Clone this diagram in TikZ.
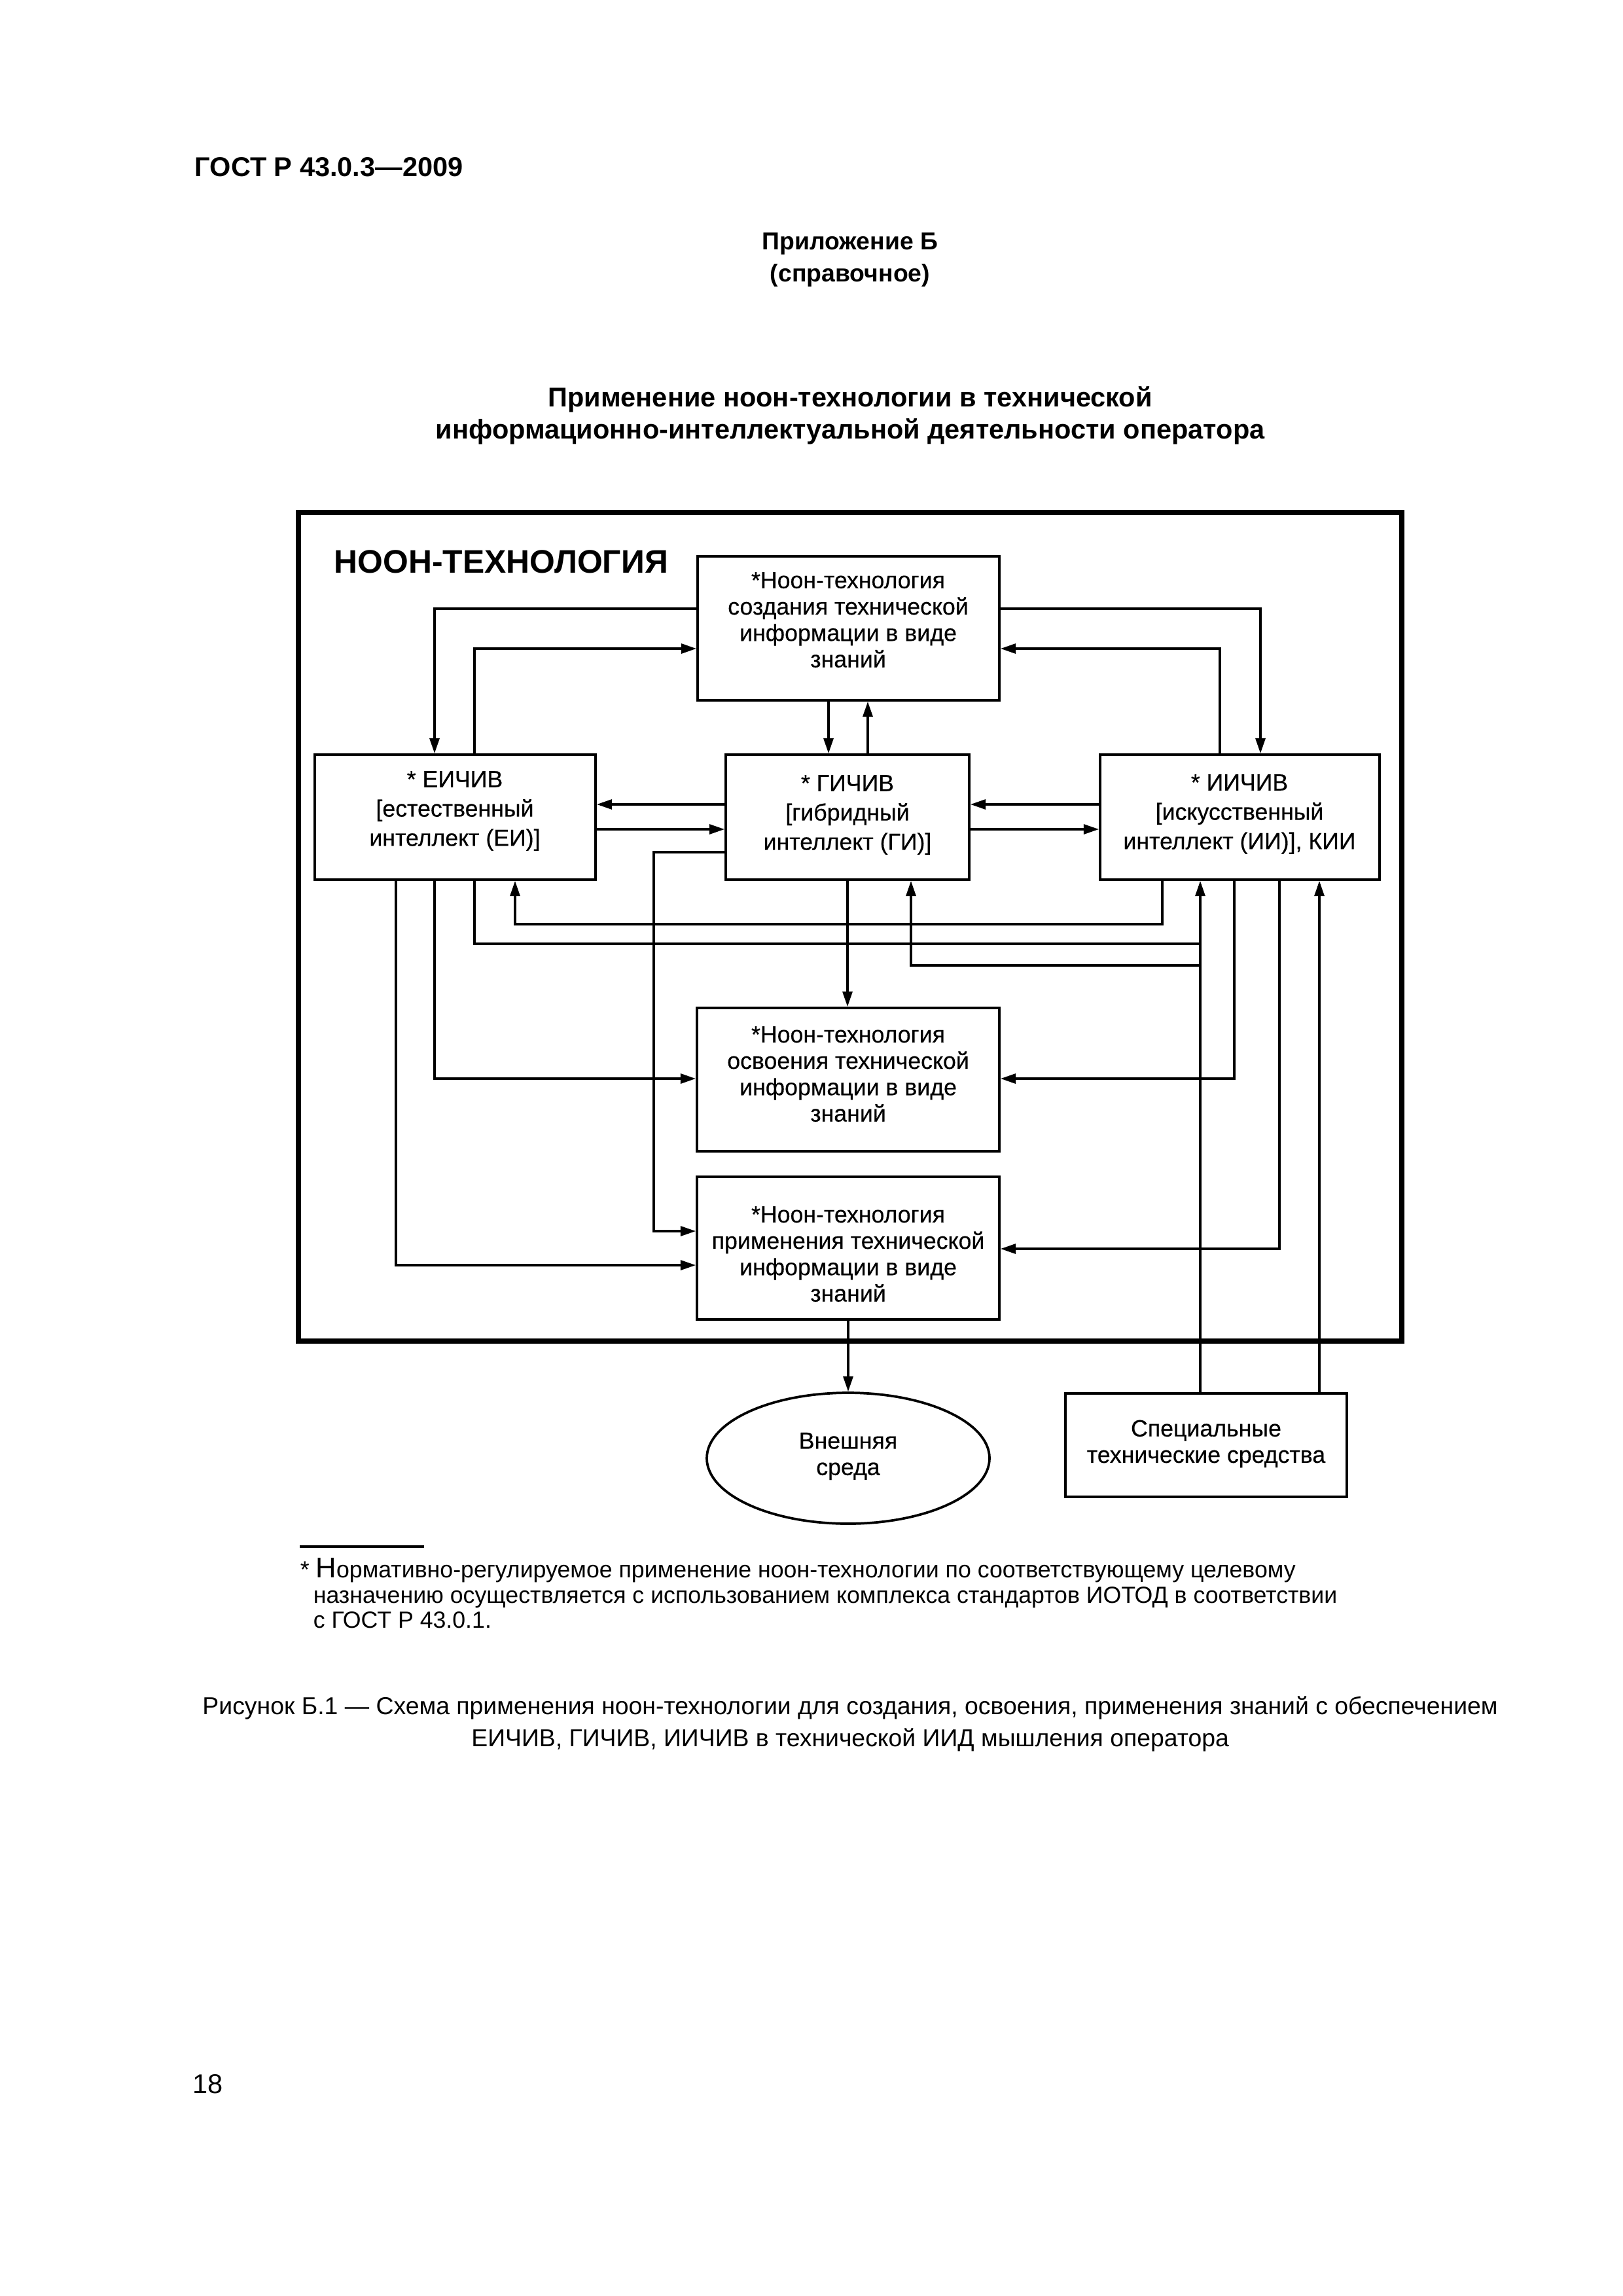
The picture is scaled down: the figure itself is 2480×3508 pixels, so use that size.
\documentclass[tikz,border=0pt]{standalone}
\usepackage{fontspec}
\setmainfont{Liberation Sans}
\newfontface\heavy{Liberation Sans}[FakeBold=0.4]
\usetikzlibrary{arrows.meta,shapes.geometric}
\def\px{0.2409pt}
\tikzset{
  box/.style={draw, line width=0.9pt, inner sep=0pt, rectangle},
  ln/.style={line width=0.8pt, line join=miter},
  arr/.style={ln, -{Triangle[length=5.6pt,width=3.6pt]}},
  btxt/.style={align=center, inner sep=0pt, font=\heavy\fontsize{8.6}{9.7}\selectfont},
  ctxt/.style={align=center, inner sep=0pt, font=\heavy\fontsize{8.6}{10.8}\selectfont},
  bold/.style={inner sep=0pt, font=\bfseries\fontsize{10}{12}\selectfont},
}
\begin{document}
\begin{tikzpicture}[x=0.2409pt, y=-0.2409pt]
\useasboundingbox[fill=white] (0,0) rectangle (2480,3508);

% header texts
\node[bold, anchor=west] (hdr) at (297,255) {ГОСТ Р 43.0.3—2009};
\node[bold, align=center, font=\bfseries\fontsize{9}{11.8}\selectfont] (app) at (1299,397) {Приложение Б\\(справочное)};
\node[bold, align=center, font=\bfseries\fontsize{10}{11.8}\selectfont] (ttl) at (1299,635) {Применение ноон-технологии в технической\\информационно-интеллектуальной деятельности оператора};

% outer frame
\node[draw, line width=1.7pt, inner sep=0pt, minimum width=1686*\px, minimum height=1266*\px] (F) at (1299,1416) {};
\node[anchor=west, inner sep=0pt, font=\bfseries\fontsize{12}{14}\selectfont] (lbl) at (510,858) {НООН-ТЕХНОЛОГИЯ};

% boxes
\node[box, minimum width=461*\px, minimum height=220*\px] (T) at (1296.5,960) {};
\node[box, minimum width=429*\px, minimum height=191*\px] (EI) at (695.5,1248.5) {};
\node[box, minimum width=372*\px, minimum height=191*\px] (GI) at (1295,1248.5) {};
\node[box, minimum width=427*\px, minimum height=191*\px] (II) at (1894.5,1248.5) {};
\node[box, minimum width=462*\px, minimum height=219*\px] (O) at (1296,1649.5) {};
\node[box, minimum width=462*\px, minimum height=218*\px] (P) at (1296,1907) {};
\node[draw, line width=0.9pt, ellipse, inner sep=0pt, minimum width=432*\px, minimum height=200*\px] (E) at (1296,2228) {};
\node[box, minimum width=430*\px, minimum height=158*\px] (S) at (1843,2208) {};

% box texts
\node[btxt] (tT) at (1296,947) {*Ноон-технология\\создания технической\\информации в виде\\знаний};
\node[ctxt] (tEI) at (695,1239) {* ЕИЧИВ\\{[}естественный\\интеллект (ЕИ){]}};
\node[ctxt] (tGI) at (1295,1245) {* ГИЧИВ\\{[}гибридный\\интеллект (ГИ){]}};
\node[ctxt] (tII) at (1894,1244) {* ИИЧИВ\\{[}искусственный\\интеллект (ИИ){]}, КИИ};
\node[btxt] (tO) at (1296,1641) {*Ноон-технология\\освоения технической\\информации в виде\\знаний};
\node[btxt] (tP) at (1296,1916) {*Ноон-технология\\применения технической\\информации в виде\\знаний};
\node[btxt] (tE) at (1296,2225) {Внешняя\\среда};
\node[btxt] (tS) at (1843,2206) {Специальные\\технические средства};

% junction points on the line from the special means
\coordinate (j1) at (1834,1442);
\coordinate (j2) at (1834,1475);

% connectors
\draw[arr] (T.west |- 0,930) -| (EI.north -| 664,0);
\draw[arr] (EI.north -| 725,0) |- (T.west |- 0,991);
\draw[arr] (T.east |- 0,930) -| (II.north -| 1926,0);
\draw[arr] (II.north -| 1864,0) |- (T.east |- 0,991);
\draw[arr] (T.south -| 1266,0) -- (GI.north -| 1266,0);
\draw[arr] (GI.north -| 1326,0) -- (T.south -| 1326,0);
\draw[arr] (GI.west |- 0,1229) -- (EI.east |- 0,1229);
\draw[arr] (EI.east |- 0,1267) -- (GI.west |- 0,1267);
\draw[arr] (II.west |- 0,1229) -- (GI.east |- 0,1229);
\draw[arr] (GI.east |- 0,1267) -- (II.west |- 0,1267);
\draw[arr] (GI.west |- 0,1302) -- (999,1302) |- (P.west |- 0,1881);
\draw[arr] (EI.south -| 605,0) |- (P.west |- 0,1933);
\draw[arr] (EI.south -| 664,0) |- (O.west |- 0,1648);
\draw[ln] (EI.south -| 725,0) |- (j1);
\draw[arr] (II.south -| 1776,0) |- (787,1412) -- (EI.south -| 787,0);
\draw[arr] (GI.south -| 1295,0) -- (O.north -| 1295,0);
\draw[arr] (j2) -| (GI.south -| 1392,0);
\draw[arr] (S.north -| 1834,0) -- (II.south -| 1834,0);
\draw[arr] (S.north -| 2016,0) -- (II.south -| 2016,0);
\draw[arr] (II.south -| 1886,0) |- (O.east |- 0,1648);
\draw[arr] (II.south -| 1955,0) |- (P.east |- 0,1908);
\draw[arr] (P.south -| 1296,0) -- (E.north);

% footnote
\draw[line width=1pt] (458,2363) -- (648,2363);
\node[anchor=base west, inner sep=0pt, font=\fontsize{8.6}{11}\selectfont] (fn1) at (458,2410) {* {\fontsize{10.5}{11}\selectfont Н}ормативно-регулируемое применение ноон-технологии по соответствующему целевому};
\node[anchor=base west, inner sep=0pt, font=\fontsize{8.6}{11}\selectfont] (fn2) at (478,2449) {назначению осуществляется с использованием комплекса стандартов ИОТОД в соответствии};
\node[anchor=base west, inner sep=0pt, font=\fontsize{8.6}{11}\selectfont] (fn3) at (478,2487) {с ГОСТ Р 43.0.1.};

% caption
\node[align=center, inner sep=0pt, font=\fontsize{9}{11.6}\selectfont] (cap) at (1299,2634) {Рисунок Б.1 — Схема применения ноон-технологии для создания, освоения, применения знаний с обеспечением\\ЕИЧИВ, ГИЧИВ, ИИЧИВ в технической ИИД мышления оператора};

% page number
\node[inner sep=0pt, font=\fontsize{10}{12}\selectfont] (pg) at (318,3184) {18};
\end{tikzpicture}
\end{document}
